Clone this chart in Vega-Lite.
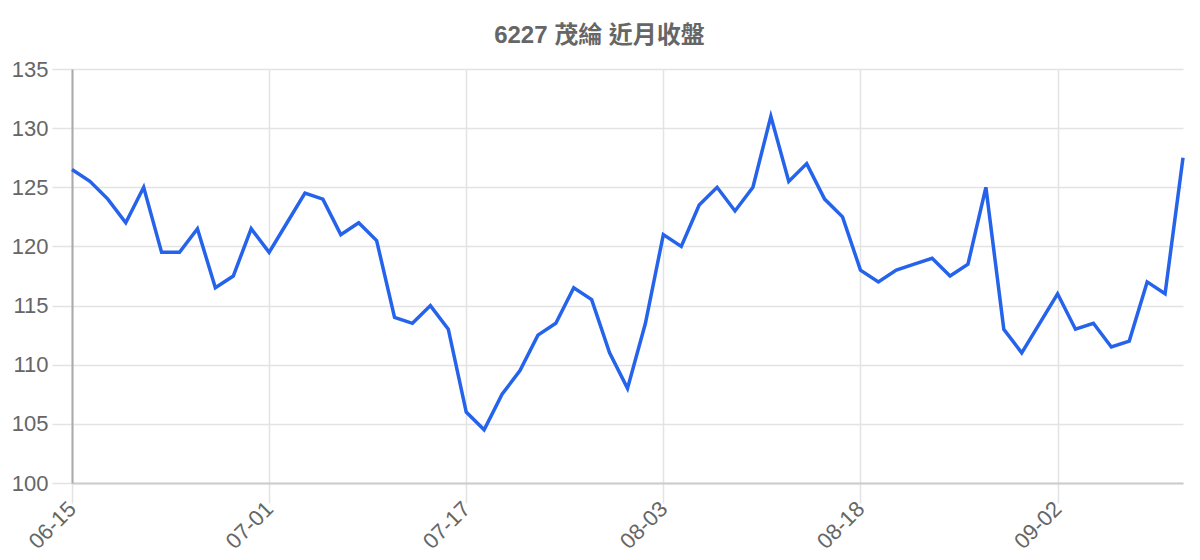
{
  "$schema": "https://vega.github.io/schema/vega-lite/v6.json",
  "autosize": {"type": "none"},
  "width": 1111,
  "height": 414,
  "padding": {"left": 72, "top": 69, "right": 17, "bottom": 77},
  "background": "white",
  "title": {
    "text": "6227 茂綸 近月收盤",
    "font": "Liberation Sans, Arial, Noto Sans CJK TC, sans-serif",
    "fontSize": 24,
    "fontWeight": "bold",
    "color": "#666666",
    "anchor": "middle",
    "dx": -28,
    "offset": 10
  },
  "data": {
    "values": [
      {"date": "06-15", "close": 126.5},
      {"date": "06-16", "close": 125.5},
      {"date": "06-17", "close": 124.0},
      {"date": "06-18", "close": 122.0},
      {"date": "06-19", "close": 125.0},
      {"date": "06-20", "close": 119.5},
      {"date": "06-22", "close": 119.5},
      {"date": "06-23", "close": 121.5},
      {"date": "06-24", "close": 116.5},
      {"date": "06-29", "close": 117.5},
      {"date": "06-30", "close": 121.5},
      {"date": "07-01", "close": 119.5},
      {"date": "07-02", "close": 122.0},
      {"date": "07-03", "close": 124.5},
      {"date": "07-06", "close": 124.0},
      {"date": "07-07", "close": 121.0},
      {"date": "07-08", "close": 122.0},
      {"date": "07-09", "close": 120.5},
      {"date": "07-10", "close": 114.0},
      {"date": "07-13", "close": 113.5},
      {"date": "07-14", "close": 115.0},
      {"date": "07-15", "close": 113.0},
      {"date": "07-17", "close": 106.0},
      {"date": "07-20", "close": 104.5},
      {"date": "07-21", "close": 107.5},
      {"date": "07-22", "close": 109.5},
      {"date": "07-23", "close": 112.5},
      {"date": "07-24", "close": 113.5},
      {"date": "07-27", "close": 116.5},
      {"date": "07-28", "close": 115.5},
      {"date": "07-29", "close": 111.0},
      {"date": "07-30", "close": 108.0},
      {"date": "07-31", "close": 113.5},
      {"date": "08-03", "close": 121.0},
      {"date": "08-04", "close": 120.0},
      {"date": "08-05", "close": 123.5},
      {"date": "08-06", "close": 125.0},
      {"date": "08-07", "close": 123.0},
      {"date": "08-10", "close": 125.0},
      {"date": "08-11", "close": 131.0},
      {"date": "08-12", "close": 125.5},
      {"date": "08-13", "close": 127.0},
      {"date": "08-14", "close": 124.0},
      {"date": "08-17", "close": 122.5},
      {"date": "08-18", "close": 118.0},
      {"date": "08-19", "close": 117.0},
      {"date": "08-20", "close": 118.0},
      {"date": "08-21", "close": 118.5},
      {"date": "08-24", "close": 119.0},
      {"date": "08-25", "close": 117.5},
      {"date": "08-26", "close": 118.5},
      {"date": "08-27", "close": 125.0},
      {"date": "08-28", "close": 113.0},
      {"date": "08-31", "close": 111.0},
      {"date": "09-01", "close": 113.5},
      {"date": "09-02", "close": 116.0},
      {"date": "09-03", "close": 113.0},
      {"date": "09-04", "close": 113.5},
      {"date": "09-07", "close": 111.5},
      {"date": "09-08", "close": 112.0},
      {"date": "09-09", "close": 117.0},
      {"date": "09-10", "close": 116.0},
      {"date": "09-11", "close": 127.5}
    ]
  },
  "mark": {"type": "line", "color": "#2563eb", "strokeWidth": 3.5, "strokeJoin": "miter", "strokeCap": "butt"},
  "encoding": {
    "x": {
      "field": "date",
      "type": "ordinal",
      "sort": null,
      "scale": {"type": "point", "padding": 0},
      "axis": {
        "title": null,
        "values": ["06-15", "07-01", "07-17", "08-03", "08-18", "09-02"],
        "labelAngle": -45,
        "labelAlign": "right",
        "labelBaseline": "middle",
        "labelPadding": 2,
        "labelFont": "Liberation Sans, Arial, sans-serif",
        "labelFontSize": 22,
        "labelColor": "#666666",
        "grid": true,
        "gridColor": "#e3e3e3",
        "gridWidth": 1.5,
        "tickSize": 20,
        "tickColor": "#e3e3e3",
        "tickWidth": 1.5,
        "domainColor": "#cccccc",
        "domainWidth": 2
      }
    },
    "y": {
      "field": "close",
      "type": "quantitative",
      "scale": {"domain": [100, 135], "nice": false, "zero": false},
      "axis": {
        "title": null,
        "values": [100, 105, 110, 115, 120, 125, 130, 135],
        "labelFont": "Liberation Sans, Arial, sans-serif",
        "labelFontSize": 22,
        "labelColor": "#666666",
        "labelPadding": 4,
        "grid": true,
        "gridColor": "#e3e3e3",
        "gridWidth": 1.5,
        "tickSize": 20,
        "tickColor": "#e3e3e3",
        "tickWidth": 1.5,
        "domainColor": "#aaaaaa",
        "domainWidth": 2
      }
    }
  },
  "config": {"view": {"stroke": null}}
}
